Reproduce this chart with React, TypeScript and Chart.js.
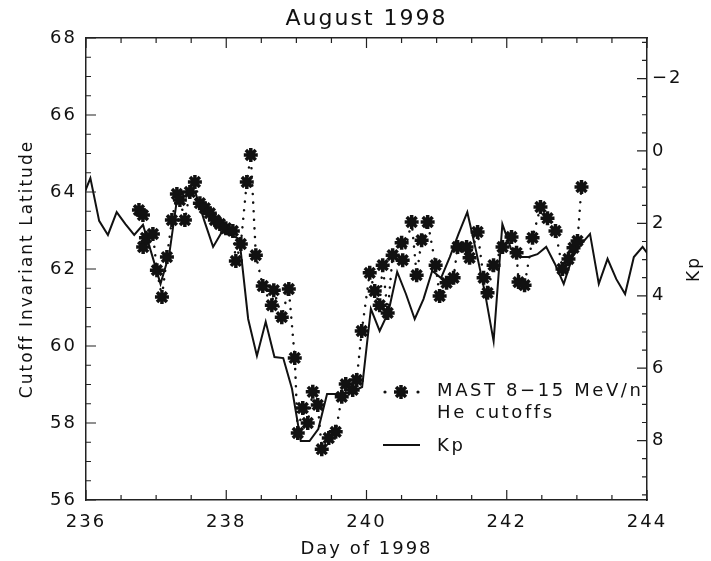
import { useEffect, useRef } from 'react';
import { Chart, registerables } from 'chart.js';

Chart.register(...registerables);

// ---- Axis ticks ----
const dayTicks = [236, 236.5, 237, 237.5, 238, 238.5, 239, 239.5, 240, 240.5, 241, 241.5, 242, 242.5, 243, 243.5, 244];
const dayLabelTicks = [236, 238, 240, 242, 244];
const latTicks = [56, 56.5, 57, 57.5, 58, 58.5, 59, 59.5, 60, 60.5, 61, 61.5, 62, 62.5, 63, 63.5, 64, 64.5, 65, 65.5, 66, 66.5, 67, 67.5, 68];
const latLabelTicks = [56, 58, 60, 62, 64, 66, 68];
const kpTicks = [-3, -2.5, -2, -1.5, -1, -0.5, 0, 0.5, 1, 1.5, 2, 2.5, 3, 3.5, 4, 4.5, 5, 5.5, 6, 6.5, 7, 7.5, 8, 8.5, 9, 9.5];
const kpLabelTicks = [-2, 0, 2, 4, 6, 8];

// ---- MAST 8-15 MeV/n He cutoffs (day of 1998, invariant latitude) ----
const mastDay = [
  236.755, 236.812, 236.815, 236.855, 236.954, 237.011, 237.083, 237.154, 237.225, 237.296,
  237.339, 237.410, 237.481, 237.553, 237.624, 237.695, 237.766, 237.838, 237.909, 237.994,
  238.094, 238.137, 238.208, 238.293, 238.350, 238.422, 238.521, 238.650, 238.678, 238.792,
  238.892, 238.977, 239.020, 239.091, 239.162, 239.234, 239.305, 239.362, 239.462, 239.561,
  239.647, 239.704, 239.803, 239.860, 239.932, 240.046, 240.117, 240.188, 240.231, 240.302,
  240.373, 240.501, 240.516, 240.644, 240.715, 240.786, 240.872, 240.986, 241.043, 241.142,
  241.242, 241.299, 241.427, 241.470, 241.584, 241.670, 241.726, 241.812, 241.940, 242.068,
  242.140, 242.168, 242.254, 242.368, 242.481, 242.581, 242.695, 242.795, 242.880, 242.952,
  243.009, 243.066,
];
const mastLat = [
  63.53, 63.40, 62.57, 62.81, 62.91, 61.97, 61.27, 62.31, 63.27, 63.95,
  63.79, 63.27, 64.00, 64.26, 63.71, 63.58, 63.45, 63.27, 63.17, 63.06,
  62.99, 62.21, 62.65, 64.26, 64.96, 62.36, 61.56, 61.06, 61.45, 60.75,
  61.48, 59.69, 57.74, 58.39, 58.00, 58.81, 58.47, 57.32, 57.61, 57.77,
  58.68, 59.01, 58.86, 59.12, 60.39, 61.90, 61.43, 61.06, 62.10, 60.86,
  62.36, 62.68, 62.23, 63.22, 61.84, 62.75, 63.22, 62.10, 61.30, 61.64,
  61.77, 62.57, 62.57, 62.29, 62.96, 61.77, 61.38, 62.10, 62.57, 62.83,
  62.42, 61.66, 61.58, 62.81, 63.61, 63.32, 62.99, 62.00, 62.26, 62.55,
  62.73, 64.13,
];

// ---- Kp index (3-hour intervals, plotted at interval midpoints) ----
const kpTime = [
  235.9375,
  236.0625, 236.1875, 236.3125, 236.4375, 236.5625, 236.6875, 236.8125, 236.9375,
  237.0625, 237.1875, 237.3125, 237.4375, 237.5625, 237.6875, 237.8125, 237.9375,
  238.0625, 238.1875, 238.3125, 238.4375, 238.5625, 238.6875, 238.8125, 238.9375,
  239.0625, 239.1875, 239.3125, 239.4375, 239.5625, 239.6875, 239.8125, 239.9375,
  240.0625, 240.1875, 240.3125, 240.4375, 240.5625, 240.6875, 240.8125, 240.9375,
  241.0625, 241.1875, 241.3125, 241.4375, 241.5625, 241.6875, 241.8125, 241.9375,
  242.0625, 242.1875, 242.3125, 242.4375, 242.5625, 242.6875, 242.8125, 242.9375,
  243.0625, 243.1875, 243.3125, 243.4375, 243.5625, 243.6875, 243.8125, 243.9375,
  244.0625,
];
const kpValues = [
  1.35,
  0.75, 1.93, 2.32, 1.69, 2.02, 2.32, 2.04, 2.85,
  3.67, 2.85, 1.13, 1.13, 1.16, 1.93, 2.65, 2.24,
  2.32, 2.43, 4.64, 5.66, 4.72, 5.69, 5.72, 6.57,
  8.01, 8.01, 7.68, 6.71, 6.71, 6.71, 6.63, 6.52,
  4.36, 4.97, 4.45, 3.34, 3.95, 4.64, 4.09, 3.31,
  3.51, 2.93, 2.29, 1.69, 2.76, 3.90, 5.25, 2.02,
  2.71, 2.93, 2.93, 2.85, 2.65, 3.12, 3.67, 2.93,
  2.57, 2.29, 3.67, 2.98, 3.54, 3.95, 2.93, 2.65,
  2.98,
];

const FONT = '"DejaVu Sans"';
const INK = '#111';

function drawStar(ctx: CanvasRenderingContext2D, x: number, y: number, r: number) {
  const d = r * Math.SQRT1_2;
  ctx.beginPath();
  ctx.moveTo(x - r, y); ctx.lineTo(x + r, y);
  ctx.moveTo(x, y - r); ctx.lineTo(x, y + r);
  ctx.moveTo(x - d, y - d); ctx.lineTo(x + d, y + d);
  ctx.moveTo(x - d, y + d); ctx.lineTo(x + d, y - d);
  ctx.stroke();
}

const idlPlugin = {
  id: 'idlStyle',
  beforeDraw(chart: any) {
    chart.ctx.letterSpacing = '2px';
  },
  afterDraw(chart: any) {
    const ctx: CanvasRenderingContext2D = chart.ctx;
    const { left, right, top, bottom } = chart.chartArea;
    ctx.save();
    ctx.strokeStyle = '#222';
    ctx.lineWidth = 1.2;
    ctx.beginPath();
    const xs = chart.scales.x;
    for (const v of dayTicks) {
      const px = xs.getPixelForValue(v);
      const len = dayLabelTicks.includes(v) ? 10 : 5;
      ctx.moveTo(px, bottom); ctx.lineTo(px, bottom - len);
      ctx.moveTo(px, top); ctx.lineTo(px, top + len);
    }
    const ys = chart.scales.y;
    for (const v of latTicks) {
      const py = ys.getPixelForValue(v);
      const len = latLabelTicks.includes(v) ? 10 : 5;
      ctx.moveTo(left, py); ctx.lineTo(left + len, py);
    }
    const y2 = chart.scales.y2;
    for (const v of kpTicks) {
      const py = y2.getPixelForValue(v);
      const len = kpLabelTicks.includes(v) ? 10 : 5;
      ctx.moveTo(right, py); ctx.lineTo(right - len, py);
    }
    ctx.stroke();

    // Right axis title, reading bottom to top
    ctx.save();
    ctx.fillStyle = INK;
    ctx.font = `17px ${FONT}`;
    ctx.letterSpacing = '2px';
    ctx.textAlign = 'center';
    ctx.textBaseline = 'middle';
    ctx.translate(right + 48, (top + bottom) / 2);
    ctx.rotate(-Math.PI / 2);
    ctx.fillText('Kp', 0, 0);
    ctx.restore();

    // Legend inside the plot
    const lx = left + 315;
    const ly1 = top + 354;
    ctx.fillStyle = INK;
    ctx.strokeStyle = INK;
    ctx.lineWidth = 3.5;
    drawStar(ctx, lx, ly1, 7);
    ctx.beginPath();
    ctx.arc(lx - 16, ly1, 1.6, 0, Math.PI * 2);
    ctx.arc(lx + 17, ly1, 1.6, 0, Math.PI * 2);
    ctx.fill();
    ctx.lineWidth = 2;
    ctx.beginPath();
    ctx.moveTo(lx - 18, ly1 + 53);
    ctx.lineTo(lx + 19, ly1 + 53);
    ctx.stroke();
    ctx.font = `18px ${FONT}`;
    ctx.letterSpacing = '2.6px';
    ctx.textAlign = 'left';
    ctx.textBaseline = 'alphabetic';
    ctx.fillText('MAST 8\u221215 MeV/n', lx + 36, ly1 + 4);
    ctx.fillText('He cutoffs', lx + 36, ly1 + 26);
    ctx.fillText('Kp', lx + 36, ly1 + 59);
    ctx.restore();
  },
};

export default function App() {
  const ref = useRef<HTMLCanvasElement>(null);
  useEffect(() => {
    if (!ref.current) return;
    Chart.defaults.font.family = FONT;
    Chart.defaults.color = INK;
    const chart = new Chart(ref.current, {
      type: 'line',
      data: {
        datasets: [
          {
            label: 'MAST 8-15 MeV/n He cutoffs',
            data: mastDay.map((d, i) => ({ x: d, y: mastLat[i] })),
            xAxisID: 'x',
            yAxisID: 'y',
            borderColor: INK,
            borderWidth: 2.5,
            borderDash: [0.1, 8.5],
            borderCapStyle: 'round',
            pointStyle: 'star',
            pointRadius: 7,
            pointBorderWidth: 3.5,
            pointBorderColor: INK,
            pointBackgroundColor: INK,
            tension: 0,
            fill: false,
            clip: 0,
          },
          {
            label: 'Kp',
            data: kpTime.map((d, i) => ({ x: d, y: kpValues[i] })),
            xAxisID: 'x',
            yAxisID: 'y2',
            borderColor: INK,
            borderWidth: 2,
            pointRadius: 0,
            tension: 0,
            fill: false,
            clip: 0,
          },
        ],
      },
      options: {
        responsive: false,
        animation: false,
        events: [],
        layout: { padding: 0 },
        plugins: {
          legend: { display: false },
          tooltip: { enabled: false },
          title: { display: false },
        },
        scales: {
          x: {
            type: 'linear',
            position: 'bottom',
            min: 236,
            max: 244,
            afterBuildTicks: (s: any) => { s.ticks = dayTicks.map((v) => ({ value: v })); },
            afterFit: (s: any) => { s.height = 61; },
            grid: { display: false, drawTicks: false },
            border: { display: true, color: '#222', width: 1.5 },
            ticks: {
              autoSkip: false,
              maxRotation: 0,
              padding: 12,
              color: INK,
              font: { size: 18 },
              callback: (v: any) => (dayLabelTicks.includes(Number(v)) ? String(v) : ''),
            },
            title: { display: true, text: 'Day of 1998', color: INK, font: { size: 18 }, padding: { top: 0, bottom: 1 } },
          },
          x2: {
            type: 'linear',
            position: 'top',
            min: 236,
            max: 244,
            afterFit: (s: any) => { s.height = 38; },
            grid: { display: false, drawTicks: false },
            border: { display: true, color: '#222', width: 1.5 },
            ticks: { display: false },
            title: { display: true, text: 'August 1998', color: INK, font: { size: 22 }, padding: { top: 6, bottom: 0 } },
          },
          y: {
            type: 'linear',
            position: 'left',
            min: 56,
            max: 68,
            afterBuildTicks: (s: any) => { s.ticks = latTicks.map((v) => ({ value: v })); },
            afterFit: (s: any) => { s.width = 86; },
            grid: { display: false, drawTicks: false },
            border: { display: true, color: '#222', width: 1.5 },
            ticks: {
              autoSkip: false,
              padding: 9,
              color: INK,
              font: { size: 18 },
              callback: (v: any) => (latLabelTicks.includes(Number(v)) ? String(v) : ''),
            },
            title: { display: true, text: 'Cutoff Invariant Latitude', color: INK, font: { size: 17 }, padding: { top: 17, bottom: 0 } },
          },
          y2: {
            type: 'linear',
            position: 'right',
            min: -3.12,
            max: 9.64,
            reverse: true,
            afterBuildTicks: (s: any) => { s.ticks = kpTicks.map((v) => ({ value: v })); },
            afterFit: (s: any) => { s.width = 64; },
            grid: { display: false, drawTicks: false },
            border: { display: true, color: '#222', width: 1.5 },
            ticks: {
              autoSkip: false,
              padding: 5,
              color: INK,
              font: { size: 18 },
              callback: (v: any) => {
                const n = Number(v);
                if (!kpLabelTicks.includes(n)) return '';
                return n < 0 ? '\u2212' + Math.abs(n) : String(n);
              },
            },
          },
        },
      },
      plugins: [idlPlugin],
    } as any);
    return () => chart.destroy();
  }, []);

  return (
    <div style={{ position: 'fixed', left: 0, top: 0, width: 711, height: 561, background: '#fff' }}>
      <canvas ref={ref} width={711} height={561} style={{ display: 'block' }} />
    </div>
  );
}
